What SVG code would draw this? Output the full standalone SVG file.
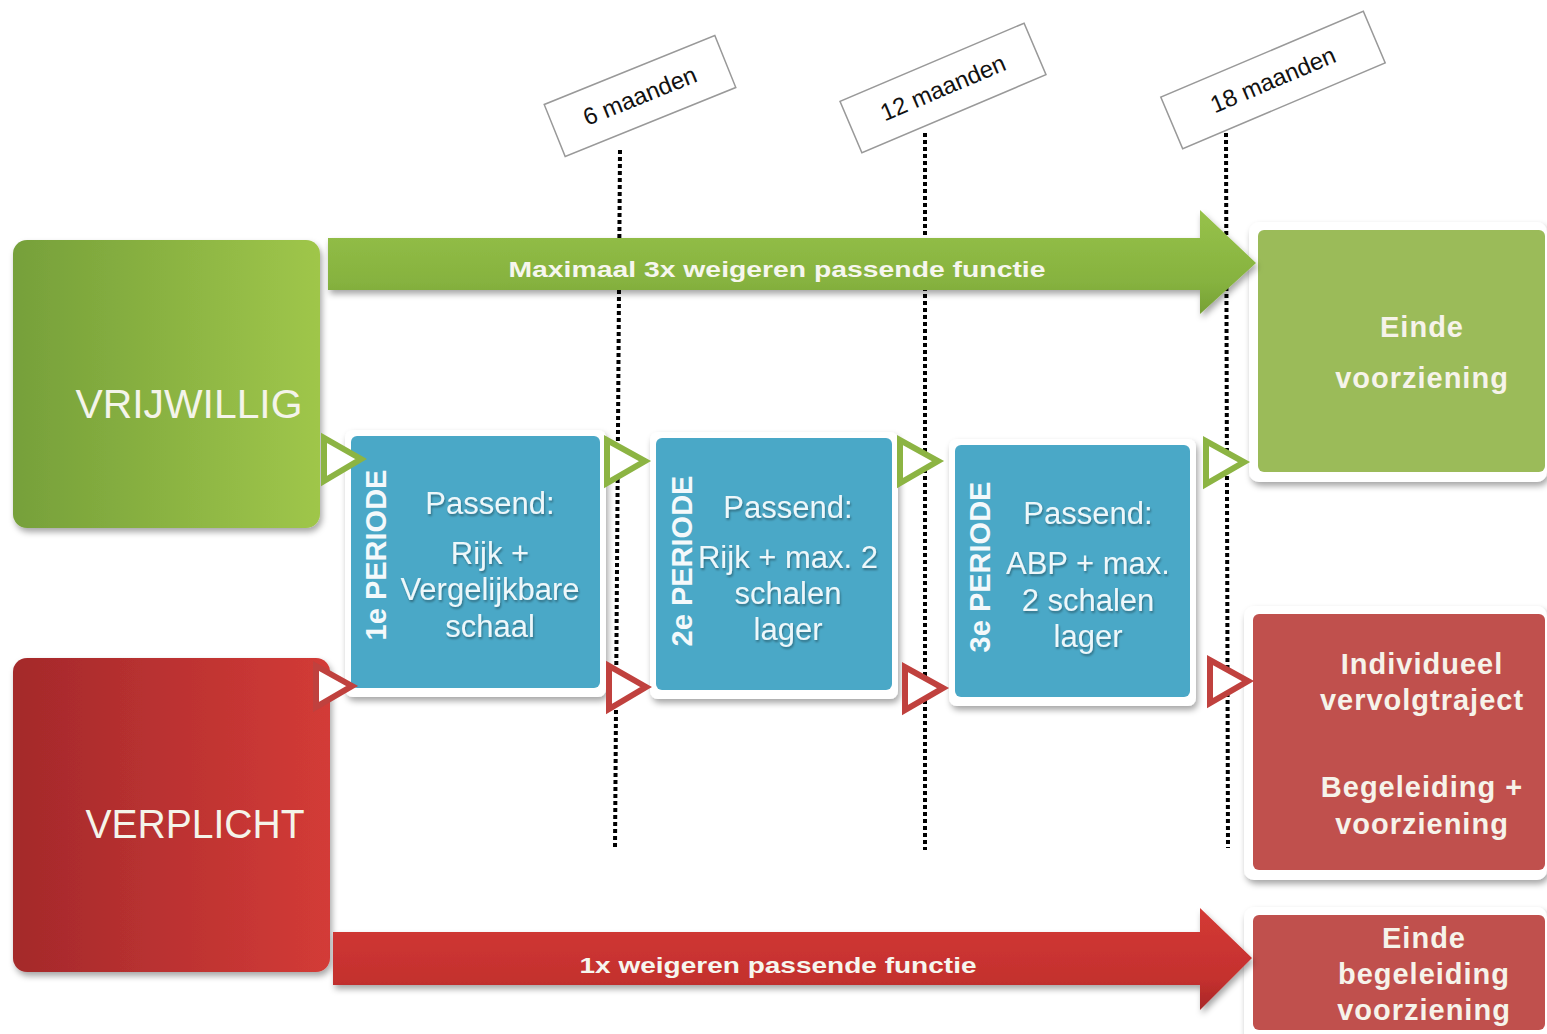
<svg xmlns="http://www.w3.org/2000/svg" width="1547" height="1034" viewBox="0 0 1547 1034">
<defs>
  <linearGradient id="gGreenBox" x1="0" y1="0" x2="1" y2="0">
    <stop offset="0" stop-color="#76a03a"/>
    <stop offset="1" stop-color="#9fc64a"/>
  </linearGradient>
  <linearGradient id="gRedBox" x1="0" y1="0" x2="1" y2="0">
    <stop offset="0" stop-color="#a4292b"/>
    <stop offset="1" stop-color="#d33b37"/>
  </linearGradient>
  <linearGradient id="gGreenArrow" x1="0" y1="0" x2="0" y2="1">
    <stop offset="0" stop-color="#97c24a"/>
    <stop offset="0.7" stop-color="#86b23f"/>
    <stop offset="1" stop-color="#76a035"/>
  </linearGradient>
  <linearGradient id="gRedArrow" x1="0" y1="0" x2="0" y2="1">
    <stop offset="0" stop-color="#d43a35"/>
    <stop offset="0.7" stop-color="#c4302e"/>
    <stop offset="1" stop-color="#a82828"/>
  </linearGradient>
  <filter id="shadow" x="-10%" y="-10%" width="125%" height="125%">
    <feDropShadow dx="2" dy="4" stdDeviation="3" flood-color="#000" flood-opacity="0.35"/>
  </filter>
  <filter id="tshadow" x="-10%" y="-20%" width="120%" height="150%">
    <feDropShadow dx="1" dy="2" stdDeviation="1.2" flood-color="#000" flood-opacity="0.35"/>
  </filter>
</defs>
<style>
  .dots { stroke:#000; stroke-width:4; stroke-dasharray:4 3; fill:none; }
  .lbl { fill:#fff; stroke:#999; stroke-width:1.5; }
  .lbltxt { font-family:"Liberation Sans", Arial, sans-serif; font-size:24px; fill:#111; text-anchor:middle; }
  .frame { fill:#fff; filter:url(#shadow); }
  .blue { fill:#4aa8c7; }
  .green { fill:#9bbb59; }
  .red { fill:#c0504d; }
  .big { font-family:"Liberation Sans", Arial, sans-serif; font-size:40px; fill:#f4f4ea; text-anchor:middle; }
  .arrtxt { font-family:"Liberation Sans", Arial, sans-serif; font-weight:bold; font-size:22px; fill:#f6f6ee; text-anchor:middle; }
  .per { font-family:"Liberation Sans", Arial, sans-serif; font-weight:bold; font-size:29px; fill:#f4f9fb; text-anchor:middle; }
  .body { font-family:"Liberation Sans", Arial, sans-serif; font-size:31px; fill:#eef7fa; text-anchor:middle; filter:url(#tshadow); }
  .out { font-family:"Liberation Sans", Arial, sans-serif; font-weight:bold; font-size:29px; fill:#f6f3ea; text-anchor:middle; letter-spacing:1px; }
  .tri-g { fill:#fff; stroke:#8cb443; stroke-width:6; stroke-linejoin:miter; }
  .tri-r { fill:#fff; stroke:#c0413e; stroke-width:6; stroke-linejoin:miter; }
</style>
<rect width="1547" height="1034" fill="#fff"/>

<g id="timeline">
  <line class="dots" x1="620" y1="150" x2="615" y2="848"/>
  <line class="dots" x1="925" y1="133" x2="925" y2="850"/>
  <line class="dots" x1="1226" y1="133" x2="1228" y2="848"/>
</g>

<g id="label-6">
  <g transform="translate(640,96) rotate(-22)">
    <rect class="lbl" x="-92" y="-28" width="184" height="56"/>
    <text class="lbltxt" x="0" y="8">6 maanden</text>
  </g>
</g>
<g id="label-12">
  <g transform="translate(943,88) rotate(-23)">
    <rect class="lbl" x="-100" y="-28" width="200" height="56"/>
    <text class="lbltxt" x="0" y="8">12 maanden</text>
  </g>
</g>
<g id="label-18">
  <g transform="translate(1273,80) rotate(-23)">
    <rect class="lbl" x="-110" y="-28" width="220" height="56"/>
    <text class="lbltxt" x="0" y="8">18 maanden</text>
  </g>
</g>

<g id="vrijwillig">
  <rect x="13" y="240" width="307" height="288" rx="14" fill="url(#gGreenBox)" filter="url(#shadow)"/>
  <text class="big" x="189" y="418" textLength="227" lengthAdjust="spacingAndGlyphs">VRIJWILLIG</text>
</g>
<g id="verplicht">
  <rect x="13" y="658" width="317" height="314" rx="14" fill="url(#gRedBox)" filter="url(#shadow)"/>
  <text class="big" x="195" y="838" textLength="219" lengthAdjust="spacingAndGlyphs">VERPLICHT</text>
</g>

<g id="periode-1">
  <rect class="frame" x="345" y="430" width="261" height="267" rx="8"/>
  <rect class="blue" x="351" y="436" width="249" height="252" rx="6"/>
  <text class="per" transform="translate(386,555) rotate(-90)">1e PERIODE</text>
  <text class="body" x="490" y="514">Passend:</text>
  <text class="body" x="490" y="564">Rijk +</text>
  <text class="body" x="490" y="600">Vergelijkbare</text>
  <text class="body" x="490" y="637">schaal</text>
</g>
<g id="periode-2">
  <rect class="frame" x="650" y="432" width="248" height="267" rx="8"/>
  <rect class="blue" x="656" y="438" width="236" height="252" rx="6"/>
  <text class="per" transform="translate(692,561) rotate(-90)">2e PERIODE</text>
  <text class="body" x="788" y="518">Passend:</text>
  <text class="body" x="788" y="568">Rijk + max. 2</text>
  <text class="body" x="788" y="604">schalen</text>
  <text class="body" x="788" y="640">lager</text>
</g>
<g id="periode-3">
  <rect class="frame" x="949" y="439" width="247" height="267" rx="8"/>
  <rect class="blue" x="955" y="445" width="235" height="252" rx="6"/>
  <text class="per" transform="translate(990,567) rotate(-90)">3e PERIODE</text>
  <text class="body" x="1088" y="524">Passend:</text>
  <text class="body" x="1088" y="574">ABP + max.</text>
  <text class="body" x="1088" y="611">2 schalen</text>
  <text class="body" x="1088" y="647">lager</text>
</g>

<g id="einde-voorziening">
  <rect class="frame" x="1249" y="222" width="298" height="260" rx="10"/>
  <rect class="green" x="1258" y="230" width="287" height="242" rx="6"/>
  <text class="out" x="1422" y="337">Einde</text>
  <text class="out" x="1422" y="388">voorziening</text>
</g>
<g id="individueel">
  <rect class="frame" x="1244" y="606" width="303" height="274" rx="10"/>
  <rect class="red" x="1253" y="614" width="292" height="256" rx="6"/>
  <text class="out" x="1422" y="674">Individueel</text>
  <text class="out" x="1422" y="710">vervolgtraject</text>
  <text class="out" x="1422" y="797">Begeleiding +</text>
  <text class="out" x="1422" y="834">voorziening</text>
</g>
<g id="einde-begeleiding">
  <rect class="frame" x="1244" y="907" width="303" height="140" rx="10"/>
  <rect class="red" x="1253" y="915" width="292" height="115" rx="6"/>
  <text class="out" x="1424" y="948">Einde</text>
  <text class="out" x="1424" y="984">begeleiding</text>
  <text class="out" x="1424" y="1020">voorziening</text>
</g>

<g id="connectors">
  <path d="M328,238 H1200 V210 L1256,263 L1200,314 V290 H328 Z" fill="url(#gGreenArrow)" filter="url(#shadow)"/>
  <text class="arrtxt" x="777" y="277" textLength="537" lengthAdjust="spacingAndGlyphs">Maximaal 3x weigeren passende functie</text>
  <path d="M333,932 H1200 V908 L1252,958 L1200,1010 V985 H333 Z" fill="url(#gRedArrow)" filter="url(#shadow)"/>
  <text class="arrtxt" x="778" y="973" textLength="397" lengthAdjust="spacingAndGlyphs">1x weigeren passende functie</text>

  <polygon class="tri-g" points="324,438 324,481 361,459"/>
  <polygon class="tri-g" points="607,440 607,483 645,461"/>
  <polygon class="tri-g" points="900,440 900,483 938,461"/>
  <polygon class="tri-g" points="1206,441 1206,484 1244,462"/>
  <polygon class="tri-r" points="316,666 316,707 352,686"/>
  <polygon class="tri-r" points="609,666 609,709 646,687"/>
  <polygon class="tri-r" points="905,667 905,710 943,688"/>
  <polygon class="tri-r" points="1210,660 1210,703 1248,681"/>
</g>
</svg>
